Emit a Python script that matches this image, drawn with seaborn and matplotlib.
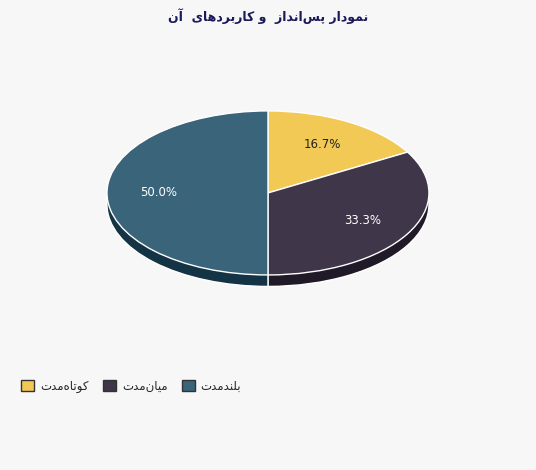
import matplotlib
matplotlib.use("Agg")
import matplotlib.pyplot as plt
import seaborn as sns
from matplotlib.patches import Patch

# Chart data
labels = ["کوتاه‌مدت", "میان‌مدت", "بلندمدت"]
values = [16.7, 33.3, 50.0]
colors = ["#f3c955", "#3f3649", "#3a6479"]
side_colors = ["#c89a2a", "#201a28", "#143446"]
title = "نمودار پس‌انداز  و کاربردهای  آن"

# minimal Persian shaping (matplotlib has no complex text layout)
FORMS = {
    "ا": (0xFE8D, 0xFE8E), "آ": (0xFE81, 0xFE82),
    "د": (0xFEA9, 0xFEAA), "ر": (0xFEAD, 0xFEAE),
    "ز": (0xFEAF, 0xFEB0), "و": (0xFEED, 0xFEEE),
    "ب": (0xFE8F, 0xFE90, 0xFE91, 0xFE92), "پ": (0xFB56, 0xFB57, 0xFB58, 0xFB59),
    "ت": (0xFE95, 0xFE96, 0xFE97, 0xFE98), "س": (0xFEB1, 0xFEB2, 0xFEB3, 0xFEB4),
    "ک": (0xFB8E, 0xFB8F, 0xFB90, 0xFB91), "ل": (0xFEDD, 0xFEDE, 0xFEDF, 0xFEE0),
    "م": (0xFEE1, 0xFEE2, 0xFEE3, 0xFEE4), "ن": (0xFEE5, 0xFEE6, 0xFEE7, 0xFEE8),
    "ه": (0xFEE9, 0xFEEA, 0xFEEB, 0xFEEC), "ی": (0xFBFC, 0xFBFD, 0xFBFE, 0xFBFF),
}


def shape(text):
    out = []
    for i, c in enumerate(text):
        if c not in FORMS:
            if c != "\u200c":
                out.append(c)
            continue
        prev = text[i - 1] if i > 0 else ""
        nxt = text[i + 1] if i + 1 < len(text) else ""
        jp = prev in FORMS and len(FORMS[prev]) == 4
        jn = len(FORMS[c]) == 4 and nxt in FORMS
        f = FORMS[c]
        if jp and jn:
            code = f[3]
        elif jn:
            code = f[2]
        elif jp:
            code = f[1]
        else:
            code = f[0]
        out.append(chr(code))
    return "".join(reversed(out))


sns.set_theme(style="white")
plt.rcParams["font.family"] = ["DejaVu Sans"]

fig = plt.figure(figsize=(5.36, 4.70), dpi=100, facecolor="#f7f7f7")
ax = fig.add_axes([0.1996, 0.415, 0.6007, 0.349])
ax.set_facecolor("#f7f7f7")

# depth layer
side, _ = ax.pie(values, colors=side_colors, startangle=90, counterclock=False,
                 center=(0, -0.14), radius=1)
for w in side:
    w.set_clip_on(False)
wedges, _, autotexts = ax.pie(values, colors=colors, startangle=90, counterclock=False,
                              autopct="%.1f%%", pctdistance=0.68,
                              textprops={"fontsize": 8.5, "color": "white"})
for w in wedges:
    w.set_clip_on(False)
autotexts[0].set_color("#222222")
ax.set_aspect("auto")
ax.set_xlim(-1, 1)
ax.set_ylim(-1, 1)
ax.axis("off")

fig.text(0.5, 0.965, shape(title), ha="center", va="center", fontsize=9,
         fontweight="bold", color="#1a1a5a")

handles = [Patch(facecolor=c, edgecolor="#333333", label=shape(l)) for c, l in zip(colors, labels)]
fig.legend(handles=handles, loc="center left", bbox_to_anchor=(0.02, 0.178), ncol=3,
           frameon=False, fontsize=8.5, handlelength=1.1, handleheight=1.1,
           columnspacing=1.2, handletextpad=0.5)

fig.savefig("out.png", dpi=100, facecolor=fig.get_facecolor())
